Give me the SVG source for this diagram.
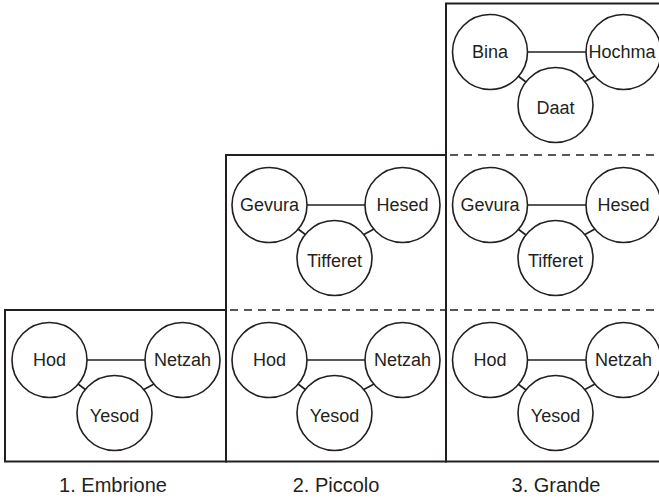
<svg xmlns="http://www.w3.org/2000/svg" width="659" height="499" viewBox="0 0 659 499">
  <style>
    .frame { fill: none; stroke: #231f20; stroke-width: 2; }
    .divider { fill: none; stroke: #231f20; stroke-width: 1.6; stroke-dasharray: 8 6; }
    .node circle { fill: #fff; stroke: #231f20; stroke-width: 1.6; }
    .node text { font-family: "Liberation Sans", Arial, sans-serif; font-size: 18px; fill: #231f20; text-anchor: middle; }
    .edge { stroke: #231f20; stroke-width: 1.6; fill: none; }
    .caption { font-family: "Liberation Sans", Arial, sans-serif; font-size: 20px; fill: #231f20; text-anchor: middle; }
  </style>

  <!-- stage frames -->
  <g id="frames">
    <rect class="frame" x="5" y="310" width="221" height="151.5"/>
    <rect class="frame" x="226" y="155" width="220" height="306.5"/>
    <path class="frame" d="M 664 3.5 L 446 3.5 L 446 461.5 L 664 461.5"/>
    <line class="divider" x1="230" y1="310" x2="446" y2="310"/>
    <line class="divider" x1="450" y1="310" x2="659" y2="310"/>
    <line class="divider" x1="450" y1="155" x2="659" y2="155"/>
  </g>

  <!-- connectors -->
  <g id="connectors">
    <!-- column 1 -->
    <line class="edge" x1="87" y1="360" x2="145" y2="360"/>
    <line class="edge" x1="78" y1="384" x2="86" y2="390"/>
    <line class="edge" x1="154" y1="384" x2="143" y2="390"/>
    <!-- column 2 -->
    <line class="edge" x1="307" y1="360" x2="365" y2="360"/>
    <line class="edge" x1="298" y1="384" x2="306" y2="390"/>
    <line class="edge" x1="374" y1="384" x2="363" y2="390"/>
    <line class="edge" x1="307" y1="205" x2="365" y2="205"/>
    <line class="edge" x1="298" y1="229" x2="306" y2="235"/>
    <line class="edge" x1="374" y1="229" x2="363" y2="235"/>
    <!-- column 3 -->
    <line class="edge" x1="527" y1="360" x2="586" y2="360"/>
    <line class="edge" x1="518" y1="384" x2="526" y2="390"/>
    <line class="edge" x1="595" y1="384" x2="584" y2="390"/>
    <line class="edge" x1="527" y1="205" x2="586" y2="205"/>
    <line class="edge" x1="518" y1="229" x2="526" y2="235"/>
    <line class="edge" x1="595" y1="229" x2="584" y2="235"/>
    <line class="edge" x1="527" y1="52" x2="586" y2="52"/>
    <line class="edge" x1="518" y1="76" x2="526" y2="82"/>
    <line class="edge" x1="595" y1="76" x2="584" y2="82"/>
  </g>

  <!-- column 1: Embrione -->
  <g id="hod-1" class="node"><circle cx="49.5" cy="360" r="37.5"/><text x="49.5" y="366">Hod</text></g>
  <g id="netzah-1" class="node"><circle cx="182.5" cy="360" r="37.5"/><text x="182.5" y="366">Netzah</text></g>
  <g id="yesod-1" class="node"><circle cx="114.5" cy="413" r="37.5"/><text x="114.5" y="421.5">Yesod</text></g>

  <!-- column 2: Piccolo -->
  <g id="gevura-2" class="node"><circle cx="269.5" cy="205" r="37.5"/><text x="269.5" y="211">Gevura</text></g>
  <g id="hesed-2" class="node"><circle cx="402.5" cy="205" r="37.5"/><text x="402.5" y="211">Hesed</text></g>
  <g id="tifferet-2" class="node"><circle cx="334.5" cy="258" r="37.5"/><text x="334.5" y="266.5">Tifferet</text></g>
  <g id="hod-2" class="node"><circle cx="269.5" cy="360" r="37.5"/><text x="269.5" y="366">Hod</text></g>
  <g id="netzah-2" class="node"><circle cx="402.5" cy="360" r="37.5"/><text x="402.5" y="366">Netzah</text></g>
  <g id="yesod-2" class="node"><circle cx="334.5" cy="413" r="37.5"/><text x="334.5" y="421.5">Yesod</text></g>

  <!-- column 3: Grande -->
  <g id="bina-3" class="node"><circle cx="490" cy="52" r="37.5"/><text x="490" y="58">Bina</text></g>
  <g id="hochma-3" class="node"><circle cx="623.5" cy="52" r="37.5"/><text x="622" y="58">Hochma</text></g>
  <g id="daat-3" class="node"><circle cx="555.5" cy="105" r="37.5"/><text x="555.5" y="113.5">Daat</text></g>
  <g id="gevura-3" class="node"><circle cx="490" cy="205" r="37.5"/><text x="490" y="211">Gevura</text></g>
  <g id="hesed-3" class="node"><circle cx="623.5" cy="205" r="37.5"/><text x="623.5" y="211">Hesed</text></g>
  <g id="tifferet-3" class="node"><circle cx="555.5" cy="258" r="37.5"/><text x="555.5" y="266.5">Tifferet</text></g>
  <g id="hod-3" class="node"><circle cx="490" cy="360" r="37.5"/><text x="490" y="366">Hod</text></g>
  <g id="netzah-3" class="node"><circle cx="623.5" cy="360" r="37.5"/><text x="623.5" y="366">Netzah</text></g>
  <g id="yesod-3" class="node"><circle cx="555.5" cy="413" r="37.5"/><text x="555.5" y="421.5">Yesod</text></g>

  <!-- stage captions -->
  <g id="captions">
    <text class="caption" x="113" y="492">1. Embrione</text>
    <text class="caption" x="336" y="492">2. Piccolo</text>
    <text class="caption" x="556" y="492">3. Grande</text>
  </g>
</svg>
